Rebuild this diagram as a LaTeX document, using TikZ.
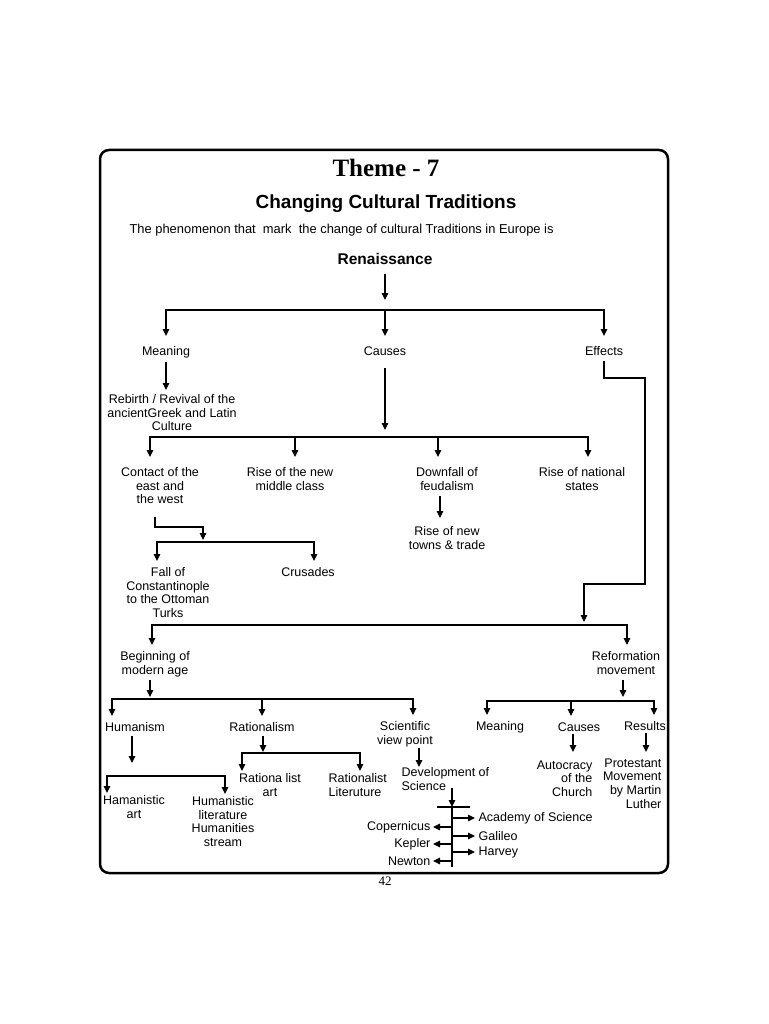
\documentclass[tikz,border=0pt]{standalone}
\usepackage{fontspec}
\setmainfont{Liberation Sans}
\newfontfamily\timesfont{Liberation Serif}
\usetikzlibrary{arrows.meta}

\begin{document}
\begin{tikzpicture}[x=1pt,y=-1pt,
				line width=1.2pt,
				every node/.style={inner sep=0pt,anchor=north,align=center,font=\fontsize{12.5}{13.6}\selectfont},
				arr/.style={-{Triangle[length=7pt,width=6.5pt]}},
				drop/.style={arr,shorten >=#1}]
				\useasboundingbox (0,0) rectangle (768,1024);
				\draw[line width=2.5pt,rounded corners=9pt] (100,150) rectangle (668,873);
				\node[font=\timesfont\bfseries\fontsize{25}{30}\selectfont] (theme) at (386,159) {Theme - 7};
				\node[font=\bfseries\fontsize{19}{23}\selectfont] (sub) at (386,194) {Changing Cultural Traditions};
				\node[anchor=north west,font=\fontsize{12.9}{14}\selectfont] (phen) at (129,224) {The phenomenon that~ mark~ the change of cultural Traditions in Europe is};
				\node[font=\bfseries\fontsize{15.5}{18}\selectfont] (ren) at (385,253) {Renaissance};
				\node (meaning1) at (166,346) {Meaning};
				\node (causes1) at (385,346) {Causes};
				\node (effects) at (604,346) {Effects};
				\node (rebirth) at (172,394) {Rebirth / Revival of the\\ancientGreek and Latin\\Culture};
				\node (contact) at (160,467) {Contact of the\\east and\\the west};
				\node (midclass) at (290,467) {Rise of the new\\middle class};
				\node (feudal) at (447,467) {Downfall of\\feudalism};
				\node (national) at (582,467) {Rise of national\\states};
				\node (towns) at (447,526) {Rise of new\\towns \& trade};
				\node (constant) at (168,567) {Fall of\\Constantinople\\to the Ottoman\\Turks};
				\node (crusades) at (308,567) {Crusades};
				\node (modern) at (155,651) {Beginning of\\modern age};
				\node (reform) at (626,651) {Reformation\\movement};
				\node (humanism) at (135,722) {Humanism};
				\node (rational) at (262,722) {Rationalism};
				\node (scient) at (405,721) {Scientific\\view point};
				\node (meaning2) at (500,721) {Meaning};
				\node (causes2) at (579,722) {Causes};
				\node (results) at (645,721) {Results};
				\node (hamart) at (134,795) {Hamanistic\\art};
				\node (humlit) at (223,796) {Humanistic\\literature\\Humanities\\stream};
				\node (ratart) at (270,773) {Rationa list\\art};
				\node[anchor=north west,align=left] (ratlit) at (328,773) {Rationalist\\Literuture};
				\node[anchor=north west,align=left] (devsci) at (401,767) {Development of\\Science};
				\node[anchor=north east,align=right] (autocracy) at (593,760) {Autocracy\\of the\\Church};
				\node[anchor=north east,align=right] (protestant) at (662,758) {Protestant\\Movement\\by Martin\\Luther};
				\node[anchor=west] (academy) at (478,818) {Academy of Science};
				\node[anchor=west] (galileo) at (478,836) {Galileo};
				\node[anchor=west] (harvey) at (478,852) {Harvey};
				\node[anchor=east] (copern) at (431,827) {Copernicus};
				\node[anchor=east] (kepler) at (431,844) {Kepler};
				\node[anchor=east] (newton) at (431,861) {Newton};
				\node[font=\timesfont\fontsize{13}{15}\selectfont] (page) at (385,876) {42};
				\coordinate (barA) at (385,310);
				\coordinate (barB) at (385,437);
				\coordinate (turnC) at (203,527);
				\coordinate (barC) at (203,542);
				\coordinate (turnA) at (645,378);
				\coordinate (turnB) at (645,584);
				\coordinate (barD) at (584,625);
				\coordinate (barE) at (150,699);
				\coordinate (barF) at (623,701);
				\coordinate (barG) at (132,776);
				\coordinate (barH) at (263,753);
				\coordinate (sci) at (452,807);
				\coordinate (sciend) at (452,867);
				\draw[arr,shorten <=8pt,shorten >=10pt] (ren.south) -- (barA);
				\draw[drop=10pt] (barA) -| (meaning1.north);
				\draw[drop=10pt] (barA) -- (causes1.north);
				\draw[drop=10pt] (barA) -| (effects.north);
				\draw[arr,shorten <=3pt,shorten >=4pt] (meaning1.south) -- (meaning1.south |- rebirth.north);
				\draw[arr,shorten <=12pt,shorten >=7pt] (causes1.south) -- (barB);
				\draw[drop=10pt] (barB) -| ([xshift=-10pt]contact.north);
				\draw[drop=10pt] (barB) -| ([xshift=5pt]midclass.north);
				\draw[drop=10pt] (barB) -| ([xshift=-9pt]feudal.north);
				\draw[drop=10pt] (barB) -| ([xshift=6pt]national.north);
				\draw[arr,shorten <=5pt,shorten >=8pt] ([xshift=-7pt]feudal.south) -- ([xshift=-7pt]feudal.south |- towns.north);
				\draw[arr,shorten <=12pt,shorten >=2pt] ([xshift=-5pt]contact.south) |- (turnC) -- (barC);
				\draw[drop=6pt] (barC) -| ([xshift=-11pt]constant.north);
				\draw[drop=6pt] (barC) -| ([xshift=6pt]crusades.north);
				\draw[arr,shorten <=5pt,shorten >=3pt] (effects.south) |- (turnA) -- (turnB) -| (barD);
				\draw[drop=6pt] (barD) -| ([xshift=-3pt]modern.north);
				\draw[drop=6pt] (barD) -| ([xshift=1pt]reform.north);
				\draw[arr,shorten <=3pt,shorten >=2pt] ([xshift=-5pt]modern.south) -- (barE);
				\draw[drop=6pt] (barE) -| ([xshift=-23pt]humanism.north);
				\draw[drop=6pt] (barE) -| (rational.north);
				\draw[drop=6pt] (barE) -| ([xshift=8pt]scient.north);
				\draw[arr,shorten <=5pt,shorten >=4pt] ([xshift=-3pt]reform.south) -- (barF);
				\draw[drop=6pt] (barF) -| ([xshift=-13pt]meaning2.north);
				\draw[drop=6pt] (barF) -| ([xshift=-8pt]causes2.north);
				\draw[drop=6pt] (barF) -| ([xshift=9pt]results.north);
				\draw[arr,shorten <=4pt,shorten >=13pt] ([xshift=-3pt]humanism.south) -- (barG);
				\draw[drop=2pt] (barG) -| ([xshift=-27pt]hamart.north);
				\draw[drop=2pt] (barG) -| ([xshift=2pt]humlit.north);
				\draw[arr,shorten <=4pt,shorten >=1pt] ([xshift=1pt]rational.south) -- (barH);
				\draw[drop=2pt] (barH) -| ([xshift=-28pt]ratart.north);
				\draw[drop=2pt] (barH) -| ([xshift=32pt]ratlit.north west);
				\draw[arr,shorten <=1pt] ([xshift=14pt]scient.south) -- ([xshift=14pt]scient.south |- devsci.north);
				\draw[arr] ([xshift=51pt,yshift=3pt]devsci.south west) -- (sci);
				\draw ([xshift=-15pt]sci) -- ([xshift=18pt]sci);
				\draw (sci) -- (sciend);
				\draw[drop=3pt] (sci |- academy) -- (academy.west);
				\draw[drop=3pt] (sci |- galileo) -- (galileo.west);
				\draw[drop=3pt] (sci |- harvey) -- (harvey.west);
				\draw[drop=2pt] (sci |- copern) -- (copern.east);
				\draw[drop=2pt] (sci |- kepler) -- (kepler.east);
				\draw[drop=2pt] (sci |- newton) -- (newton.east);
				\draw[arr,shorten <=2pt,shorten >=8pt] ([xshift=-6pt]causes2.south) -- ([xshift=-6pt]causes2.south |- autocracy.north);
				\draw[arr,shorten <=2pt,shorten >=6pt] ([xshift=1pt]results.south) -- ([xshift=1pt]results.south |- protestant.north);
			\end{tikzpicture}
\end{document}
